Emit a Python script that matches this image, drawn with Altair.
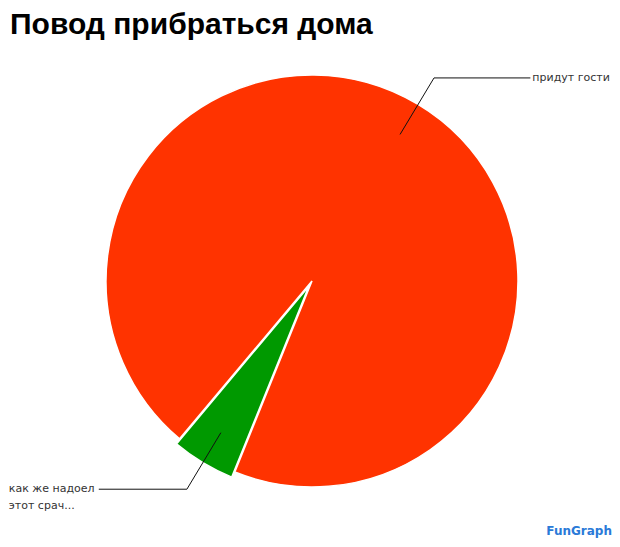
import altair as alt
import pandas as pd
import numpy as np

# ---- data ----
title_text = "Повод прибраться дома"
categories = ["как же надоел этот срач...", "придут гости"]
label_lines = [["как же надоел", "этот срач..."], ["придут гости"]]
values = [5, 95]
colors = ["#009900", "#FF3300"]
exploded = [1, 0]

# ---- layout / style ----
START_DEG = 202.0
R_PX = 206.0
EXPLODE_PX = 6.0
W, H = 604, 495
CX, CY = 304, 229
LABEL_X_RIGHT = 1.06
LABEL_X_LEFT = -1.035
R_IN, R_OUT = 0.83, 1.15

xs = alt.Scale(domain=[-CX / R_PX, (W - CX) / R_PX], nice=False, zero=False)
ys = alt.Scale(domain=[-(H - CY) / R_PX, CY / R_PX], nice=False, zero=False)

total = float(sum(values))
cum = np.concatenate([[0.0], np.cumsum(values)[:-1]])
start = np.radians(START_DEG) + cum / total * 2 * np.pi
end = start + np.array(values) / total * 2 * np.pi
mid = (start + end) / 2
off = np.array(exploded) * EXPLODE_PX / R_PX
cx = off * np.sin(mid)
cy = off * np.cos(mid)

pie = pd.DataFrame({
    "category": categories, "value": values,
    "start": start, "end": end, "cx": cx, "cy": cy,
})

rows = []
texts = []
for i, c in enumerate(categories):
    s = np.sign(np.sin(mid[i]))
    p1 = (cx[i] + R_IN * np.sin(mid[i]), cy[i] + R_IN * np.cos(mid[i]))
    p2 = (cx[i] + R_OUT * np.sin(mid[i]), cy[i] + R_OUT * np.cos(mid[i]))
    p3 = (LABEL_X_RIGHT if s > 0 else LABEL_X_LEFT, p2[1])
    for k, p in enumerate([p1, p2, p3]):
        rows.append({"category": c, "step": k, "x": p[0], "y": p[1]})
    texts.append({"category": c, "x": p3[0], "y": p3[1], "label": label_lines[i], "side": s})
leaders = pd.DataFrame(rows)
labels = pd.DataFrame(texts)

arcs = alt.Chart(pie).mark_arc(radius=R_PX, stroke="white", strokeWidth=1.5).encode(
    theta=alt.Theta("start:Q", scale=None),
    theta2="end:Q",
    x=alt.X("cx:Q", scale=xs, axis=None),
    y=alt.Y("cy:Q", scale=ys, axis=None),
    color=alt.Color("category:N", scale=alt.Scale(domain=categories, range=colors), legend=None),
)

lines = alt.Chart(leaders).mark_line(color="#111111", strokeWidth=1).encode(
    x=alt.X("x:Q", scale=xs, axis=None),
    y=alt.Y("y:Q", scale=ys, axis=None),
    detail="category:N",
    order="step:O",
)

text_style = dict(font="DejaVu Sans", fontSize=11, color="#333333", baseline="middle", lineHeight=17)
right_labels = alt.Chart(labels).transform_filter("datum.side > 0").mark_text(
    align="left", dx=2, **text_style
).encode(x=alt.X("x:Q", scale=xs, axis=None), y=alt.Y("y:Q", scale=ys, axis=None), text="label")
left_labels = alt.Chart(labels).transform_filter("datum.side < 0").mark_text(
    align="left", dx=-90, **text_style
).encode(x=alt.X("x:Q", scale=xs, axis=None), y=alt.Y("y:Q", scale=ys, axis=None), text="label")

logo = alt.Chart(pd.DataFrame({"t": ["FunGraph"]})).mark_text(
    align="right", baseline="middle", font="DejaVu Sans", fontSize=12, fontWeight="bold",
    color="#2a7ad8"
).encode(x=alt.value(W), y=alt.value(479), text="t:N")

chart = alt.layer(arcs, lines, right_labels, left_labels, logo).properties(
    width=W, height=H,
    title=alt.Title(title_text, anchor="start", frame="group", fontSize=30,
                    font="Liberation Sans", fontWeight="bold", color="#000000", offset=12, dx=2),
    padding={"left": 0, "right": 0, "top": 44, "bottom": 0},
    autosize="none",
).configure_view(stroke=None)

chart.save("out.html", embed_options={"renderer": "svg", "actions": False})
